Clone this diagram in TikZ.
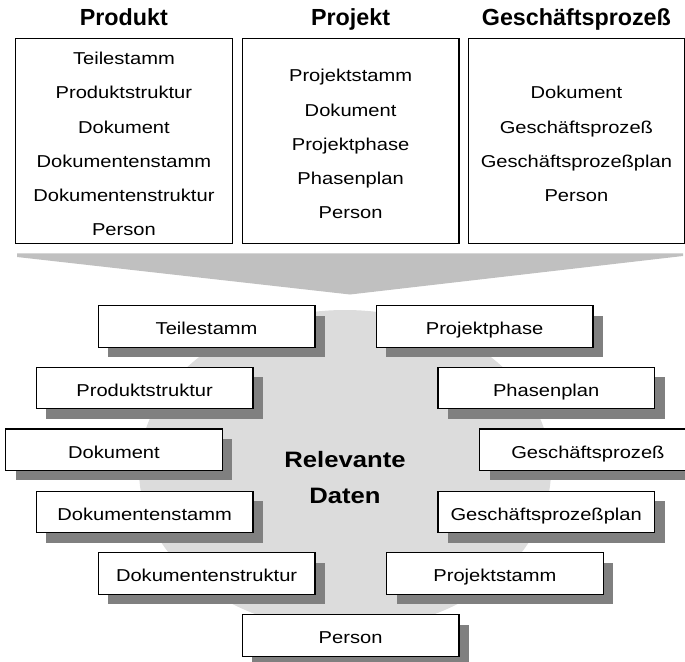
\documentclass[tikz,border=0pt]{standalone}
\usepackage{fontspec}
\setmainfont{Liberation Sans}
\newfontfamily\itemfont[FakeStretch=1.17]{Liberation Sans}
\newfontfamily\centrefont[FakeStretch=1.15]{Liberation Sans}
\usetikzlibrary{shadows}

\definecolor{funnelgray}{HTML}{C0C0C0}
\definecolor{discgray}{HTML}{DCDCDC}
\definecolor{shadowgray}{HTML}{808080}

\tikzset{
  itemtext/.style={font=\itemfont\fontsize{17.2}{34.2}\selectfont},
  groupbox/.style={draw=black, line width=1.2pt, fill=white,
    minimum width=216.6pt, minimum height=205pt, inner sep=0pt, anchor=north west},
  grouptitle/.style={font=\fontsize{23.3}{28}\selectfont\bfseries, anchor=base, inner sep=0pt},
  % multi-line lists are placed by the baseline of their last line
  grouplist/.style={itemtext, align=center, anchor=base, inner sep=0pt},
  databox/.style={draw=black, line width=1.2pt, fill=white,
    minimum width=216.6pt, minimum height=41.5pt, inner sep=0pt, anchor=north west,
    itemtext, text height=18.5pt, text depth=1.5pt,
    general shadow={fill=shadowgray, draw=none, shadow xshift=10pt, shadow yshift=-10pt}},
  centretext/.style={font=\centrefont\bfseries\fontsize{22.3}{35.7}\selectfont,
    align=center, anchor=base, inner sep=0pt},
}

\begin{document}
\begin{tikzpicture}[x=1pt, y=-1pt]
  \useasboundingbox (0,0) rectangle (685,661);
  \clip (0,0) rectangle (685,661);

  % background disc and funnel
  \fill[discgray] (345,470) ellipse [x radius=206, y radius=160];
  \fill[funnelgray] (17,253.3) -- (683,253.3) -- (683,256) -- (350,294.5) -- (17,257) -- cycle;

  % the three source areas
  \node[groupbox] (prodbox) at (15,37.7) {};
  \node[groupbox] (projbox) at (241.7,37.7) {};
  \node[groupbox] (gpbox)   at (467.5,37.7) {};

  \node[grouptitle] (prodtitle) at (prodbox.north |- 0,26) {Produkt};
  \node[grouptitle] (projtitle) at (projbox.north |- 0,26) {Projekt};
  \node[grouptitle] (gptitle)   at (gpbox.north |- 0,26)   {Geschäftsprozeß};

  \node[grouplist] (prodlist) at (prodbox.north |- 0,235.7)
    {Teilestamm\\Produktstruktur\\Dokument\\Dokumentenstamm\\Dokumentenstruktur\\Person};
  \node[grouplist] (projlist) at (projbox.north |- 0,218.6)
    {Projektstamm\\Dokument\\Projektphase\\Phasenplan\\Person};
  \node[grouplist] (gplist) at (gpbox.north |- 0,201.5)
    {Dokument\\Geschäftsprozeß\\Geschäftsprozeßplan\\Person};

  % relevant data
  \node[centretext] (centre) at (345,503.3) {Relevante\\Daten};

  \node[databox] (teile)    at (97.7,305)   {Teilestamm};
  \node[databox] (phase)    at (375.7,305)  {Projektphase};
  \node[databox] (pstrukt)  at (35.7,366.7) {Produktstruktur};
  \node[databox] (phplan)   at (437.3,366.7){Phasenplan};
  \node[databox] (dok)      at (5,428.3)    {Dokument};
  \node[databox] (gp)       at (479,428.3)  {Geschäftsprozeß};
  \node[databox] (dstamm)   at (35.7,490.5) {Dokumentenstamm};
  \node[databox] (gpplan)   at (437.3,490.5){Geschäftsprozeßplan};
  \node[databox] (dstrukt)  at (97.7,552)   {Dokumentenstruktur};
  \node[databox] (pstamm)   at (386,552)    {Projektstamm};
  \node[databox] (person)   at (241.7,614)  {Person};
\end{tikzpicture}
\end{document}
